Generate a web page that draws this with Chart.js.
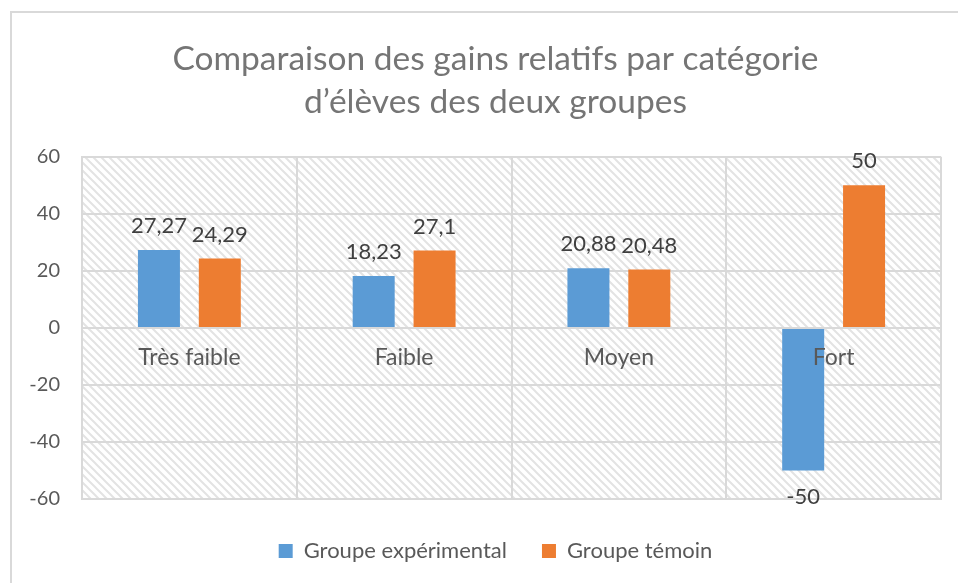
<!DOCTYPE html>
<html>
<head>
<meta charset="utf-8">
<script src="https://cdn.jsdelivr.net/npm/chart.js@4/dist/chart.umd.min.js"></script>
<style>
  html, body { margin: 0; padding: 0; background: #fff; }
  #wrap { position: relative; width: 958px; height: 583px; overflow: hidden; }
</style>
</head>
<body>
<div id="wrap"><canvas id="gainsChart" width="958" height="583"></canvas></div>
<script>
const categories = ["Très faible", "Faible", "Moyen", "Fort"];
const groupeExperimental = [27.27, 18.23, 20.88, -50];
const groupeTemoin = [24.29, 27.1, 20.48, 50];
const seriesNames = ["Groupe expérimental", "Groupe témoin"];
const titleLines = ["Comparaison des gains relatifs par catégorie", "d’élèves des deux groupes"];

const FONT = "Lato";
const GRID = "#d9d9d9";

function makeHatch() {
  const c = document.createElement("canvas");
  c.width = 8;
  c.height = 8;
  const g = c.getContext("2d");
  g.fillStyle = "#ffffff";
  g.fillRect(0, 0, 8, 8);
  g.strokeStyle = "#e3e3e3";
  g.lineWidth = 2;
  g.beginPath();
  g.moveTo(-2, -2); g.lineTo(10, 10);
  g.moveTo(-10, -2); g.lineTo(2, 10);
  g.moveTo(6, -2); g.lineTo(18, 10);
  g.stroke();
  return c;
}

const frame = {
  id: "frame",
  beforeDraw(chart) {
    const ctx = chart.ctx;
    const a = chart.chartArea;
    ctx.save();
    ctx.strokeStyle = GRID;
    ctx.lineWidth = 2;
    ctx.strokeRect(11, 12, 1000, 700);
    ctx.fillStyle = ctx.createPattern(makeHatch(), "repeat");
    ctx.fillRect(a.left, a.top, a.right - a.left, a.bottom - a.top);
    ctx.restore();
  },
  afterDraw(chart) {
    // y tick labels drawn here so they can sit left of the narrow axis box
    const ctx = chart.ctx;
    const y = chart.scales.y;
    ctx.save();
    ctx.textAlign = "right";
    ctx.textBaseline = "middle";
    ctx.font = "20px " + FONT;
    ctx.fillStyle = "#595959";
    y.ticks.forEach((t) => {
      ctx.fillText(String(t.value), chart.chartArea.left - 22, y.getPixelForValue(t.value));
    });
    ctx.restore();
  },
  afterDatasetsDraw(chart) {
    const ctx = chart.ctx;
    const x = chart.scales.x;
    const y = chart.scales.y;
    ctx.save();
    ctx.textAlign = "center";
    ctx.textBaseline = "middle";
    ctx.font = "23px " + FONT;
    ctx.fillStyle = "#595959";
    categories.forEach((c, i) => {
      ctx.fillText(c, x.getPixelForValue(i), y.getPixelForValue(0) + 30);
    });
    ctx.font = "22px " + FONT;
    ctx.fillStyle = "#404040";
    chart.data.datasets.forEach((ds, di) => {
      chart.getDatasetMeta(di).data.forEach((bar, i) => {
        const v = ds.data[i];
        const txt = String(v).replace(".", ",");
        ctx.fillText(txt, bar.x, v >= 0 ? bar.y - 24 : bar.y + 26);
      });
    });
    ctx.restore();
  }
};

new Chart(document.getElementById("gainsChart"), {
  type: "bar",
  data: {
    labels: categories,
    datasets: [
      {
        label: seriesNames[0],
        data: groupeExperimental,
        backgroundColor: "#5b9bd5",
        categoryPercentage: 0.567,
        barPercentage: 0.69,
      },
      {
        label: seriesNames[1],
        data: groupeTemoin,
        backgroundColor: "#ed7d31",
        categoryPercentage: 0.567,
        barPercentage: 0.69,
      },
    ],
  },
  options: {
    responsive: false,
    animation: false,
    layout: { padding: { top: 38, right: 17, bottom: 11, left: 50 } },
    plugins: {
      title: {
        display: true,
        text: titleLines,
        color: "#757575",
        font: { family: FONT, size: 33.5, weight: "normal", lineHeight: 1.28 },
        padding: { top: 0, bottom: 33 },
      },
      legend: {
        position: "bottom",
        labels: {
          boxWidth: 14,
          boxHeight: 14,
          padding: 35,
          color: "#595959",
          font: { family: FONT, size: 22 },
        },
      },
      tooltip: { enabled: false },
    },
    scales: {
      x: {
        afterFit(axis) { axis.height = 6; },
        grid: { color: GRID, lineWidth: 2, drawTicks: false, offset: true },
        border: { color: GRID, width: 2 },
        ticks: { display: false },
      },
      y: {
        min: -60,
        max: 60,
        afterFit(axis) { axis.width = 32; },
        grid: { color: GRID, lineWidth: 2, drawTicks: false },
        border: { color: GRID, width: 2 },
        ticks: { stepSize: 20, display: false },
      },
    },
  },
  plugins: [frame],
});
</script>
</body>
</html>
